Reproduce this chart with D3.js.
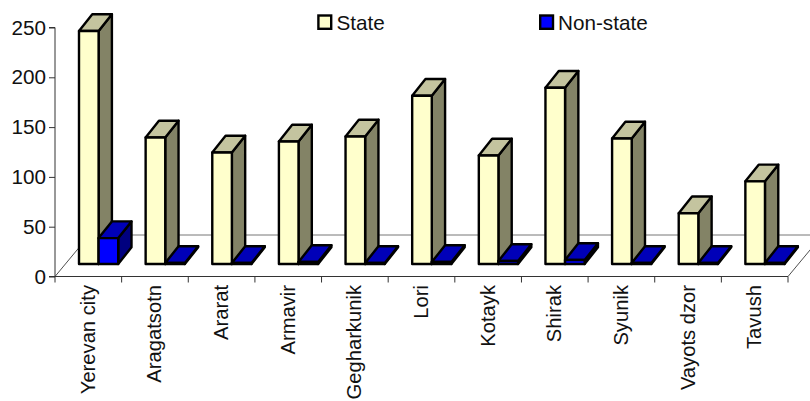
<!DOCTYPE html>
<html><head><meta charset="utf-8">
<script src="https://cdn.jsdelivr.net/npm/d3@7/dist/d3.min.js"></script>
<style>html,body{margin:0;padding:0;background:#fff}svg{display:block}text{font-family:"Liberation Sans",Arial,sans-serif;fill:#111}</style>
</head><body><svg id="c" width="810" height="401"></svg>
<script>
const categories=["Yerevan city","Aragatsotn","Ararat","Armavir","Gegharkunik","Lori","Kotayk","Shirak","Syunik","Vayots dzor","Tavush"];
const stateValues=[234,127,112,123,128,169,109,177,126,51,83];
const nonStateValues=[26,1,1,2,1,2,3,4,1,1,1];
const yTicks=[0,50,100,150,200,250];
const seriesNames=["State","Non-state"];

const svg=d3.select("#c");
const x=d3.scaleBand().domain(categories).range([55,788]).paddingInner(0).paddingOuter(0);
const y=d3.scaleLinear().domain([0,250]).range([276.5,27.5]);
const fs=20.7, catFs=20.2;

// floor
const floorDx=34.5,floorDy=41.5;
const x0=x.range()[0],x1=x.range()[1],y0=y(0);
const floor=svg.append("g");
floor.append("line").attr("x1",x0+floorDx).attr("x2",x1+floorDx).attr("y1",y0-floorDy).attr("y2",y0-floorDy).attr("stroke","#777").attr("stroke-width",1);
floor.append("line").attr("x1",x0).attr("y1",y0).attr("x2",x0+floorDx).attr("y2",y0-floorDy).attr("stroke","#222").attr("stroke-width",.8);
floor.append("line").attr("x1",x1).attr("y1",y0).attr("x2",x1+floorDx).attr("y2",y0-floorDy).attr("stroke","#222").attr("stroke-width",.8);

// bars
const baseY=264,barW=19.6,depthX=13.3,depthY=16.7,barOffset=24;
const styles=[{front:"#FFFFCC",top:"#C4C49F",side:"#838366"},{front:"#0000FF",top:"#0000B8",side:"#00007F"}];
function bar(g,left,v,st){
  const h=y(0)-y(v),t=baseY-h,r=left+barW;
  const p=a=>a.map(q=>q.join(",")).join(" ");
  const attrs=s=>s.attr("stroke","#000").attr("stroke-width",2.4).attr("stroke-linejoin","round");
  g.append("polygon").attr("points",p([[r,baseY],[r+depthX,baseY-depthY],[r+depthX,t-depthY],[r,t]])).attr("fill",st.side).call(attrs);
  g.append("polygon").attr("points",p([[left,t],[left+depthX,t-depthY],[r+depthX,t-depthY],[r,t]])).attr("fill",st.top).call(attrs);
  g.append("rect").attr("x",left).attr("y",t).attr("width",barW).attr("height",h).attr("fill",st.front).call(attrs);
}
categories.forEach((c,i)=>{
  const g=svg.append("g");
  const l=x(c)+barOffset;
  bar(g,l,stateValues[i],styles[0]);
  bar(g,l+barW,nonStateValues[i],styles[1]);
});

// axes
const yAxis=svg.append("g").attr("transform",`translate(${x0},0)`).call(d3.axisLeft(y).tickValues(yTicks).tickSize(6).tickPadding(3));
const xAxis=svg.append("g").attr("transform",`translate(0,${y0})`).call(d3.axisBottom(x).tickSize(0).tickFormat(""));
[yAxis,xAxis].forEach(a=>a.selectAll("path,line").attr("stroke","#333"));
yAxis.select(".domain").attr("d",`M-6,${y(250)}H0V${y0}H-6`);
yAxis.selectAll("text").attr("font-size",fs).attr("fill","#111").style("font-family",'"Liberation Sans",Arial,sans-serif');
xAxis.select(".domain").attr("d",`M${x0},0H${x1}`);
svg.append("g").selectAll("line").data(categories.map(c=>x(c)).concat([x1])).join("line")
  .attr("x1",d=>d).attr("x2",d=>d).attr("y1",y0).attr("y2",y0+6).attr("stroke","#333");
svg.append("g").selectAll("text").data(categories).join("text")
  .attr("transform",c=>`translate(${x(c)+x.bandwidth()/2+6.5},285) rotate(-90)`)
  .attr("text-anchor","end").attr("font-size",catFs).text(c=>c);

// legend
const legendX=[318.4,540.2];
const legendTextX=[336.5,558];
seriesNames.forEach((n,i)=>{
  svg.append("rect").attr("x",legendX[i]).attr("y",15.5).attr("width",12.8).attr("height",13.3).attr("fill",styles[i].front).attr("stroke","#000").attr("stroke-width",2.4);
  svg.append("text").attr("x",legendTextX[i]).attr("y",29.5).attr("font-size",fs).text(n);
});
</script></body></html>
